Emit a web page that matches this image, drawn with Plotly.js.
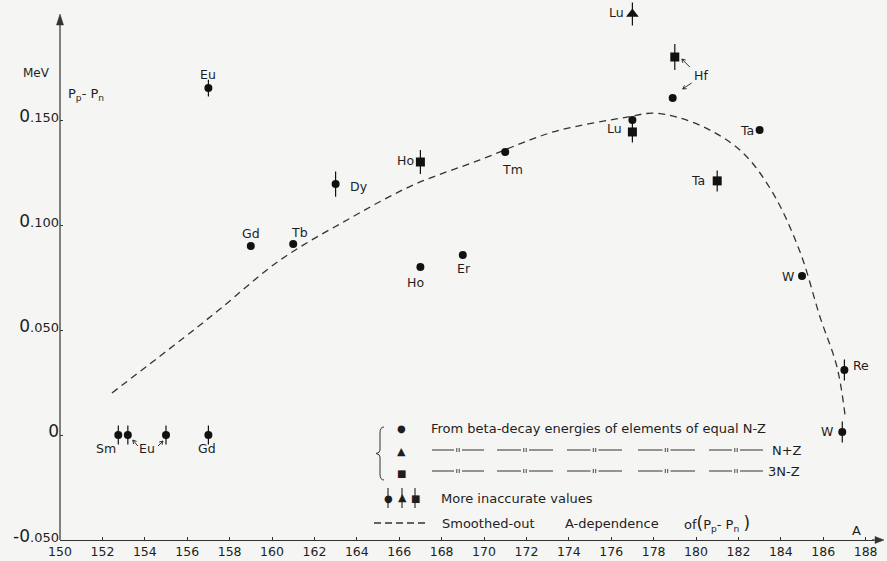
<!DOCTYPE html>
<html>
<head>
<meta charset="utf-8">
<script src="https://cdn.plot.ly/plotly-3.0.1.min.js"></script>
<style>html,body{margin:0;padding:0;background:#f5f5f4;}#chart{width:887px;height:561px;}</style>
</head>
<body>
<div id="chart"></div>
<script>
// ---------- data ----------
const circleA   = [152.75, 153.2, 155.0, 157.0, 157.0, 159.0, 161.0, 163.0, 167.0, 169.0, 171.0, 177.0, 178.9, 183.0, 185.0, 187.0, 186.9];
const circleVal = [0, 0, 0, 0, 0.1652, 0.090, 0.091, 0.1195, 0.080, 0.0857, 0.1348, 0.150, 0.1605, 0.1452, 0.0757, 0.031, 0.0014];
const circleErr = [0.0045, 0.0045, 0.0045, 0.0045, 0.004, 0, 0, 0.006, 0, 0, 0, 0, 0, 0, 0, 0.005, 0.005];
const circleName = ['Sm', '', 'Eu', 'Gd', 'Eu', 'Gd', 'Tb', 'Dy', 'Ho', 'Er', 'Tm', '', '', 'Ta', 'W', 'Re', 'W'];

const triA   = [177.0];
const triVal = [0.2005];
const triErr = [0.0055];
const triName = ['Lu'];

const sqA     = [167.0, 177.0, 179.0, 181.0];
const sqVal   = [0.130, 0.1443, 0.180, 0.121];
const sqErrUp = [0.0057, 0.007, 0.0062, 0.005];
const sqErrDn = [0.0057, 0.005, 0.0062, 0.005];
const sqName  = ['Ho', 'Lu', 'Hf', 'Ta'];

const curveA   = [152.45, 156.13, 157.55, 160.38, 163.54, 166.65, 169.81, 172.17, 173.58, 176.75, 177.97, 179.1, 180.66, 182.22, 183.63, 184.91, 185.85, 186.65, 187.03];
const curveVal = [0.020, 0.0486, 0.0600, 0.0833, 0.1024, 0.119, 0.131, 0.1405, 0.1452, 0.1514, 0.1533, 0.1514, 0.1452, 0.1343, 0.1152, 0.0871, 0.0562, 0.0324, 0.0095];

const xTickVals = [150,152,154,156,158,160,162,164,166,168,170,172,174,176,178,180,182,184,186,188];
const yTickVals = [-0.05, 0, 0.05, 0.10, 0.15];
const yTickText = ['-0<span style="font-size:13px">.050</span>', '0', '0<span style="font-size:13px">.050</span>', '0<span style="font-size:13px">.100</span>', '0<span style="font-size:13px">.150</span>'];

// ---------- layout helpers (placement in pixels) ----------
const W = 887, H = 561, M = {l: 60, r: 13, t: 2, b: 21};
const PX = x => (x - M.l) / (W - M.l - M.r);
const PY = y => (H - M.b - y) / (H - M.t - M.b);
const FONT = 'DejaVu Sans, Verdana, sans-serif';
const INK = '#1e1e1e';

const circleLabelShift = [[-12,13],null,[-19,13],[-1,13],[0,-14],[0,-13],[6,-11],[23,2],[-5,15],[1,13],[7,18],null,null,[-13,0],[-14,0],[17,-4],[-15,-1]];
const triLabelShift = [[-16,-1]];
const sqLabelShift = [[-15,-2],[-18,-3],[26,18],[-19,0]];

const annotations = [];
const shapes = [];
function addLabels(xs, ys, names, shifts) {
  names.forEach((n, i) => {
    if (!n || !shifts[i]) return;
    annotations.push({x: xs[i], y: ys[i], xref: 'x', yref: 'y', xanchor: 'center', yanchor: 'middle', text: n, showarrow: false,
      xshift: shifts[i][0], yshift: -shifts[i][1], font: {family: FONT, size: 12.5, color: INK}});
  });
}
addLabels(circleA, circleVal, circleName, circleLabelShift);
addLabels(triA, triVal, triName, triLabelShift);
addLabels(sqA, sqVal, sqName, sqLabelShift);

// small pointer arrows anchored at a data point (pixel offsets, +y = down)
function pointer(x, y, tail, head) {
  const tx = tail[0], ty = -tail[1], hx = head[0], hy = -head[1];
  const d = Math.hypot(hx - tx, hy - ty), ux = (hx - tx) / d, uy = (hy - ty) / d;
  const nx = -uy, ny = ux, L = 3.5, Wd = 2;
  const a1 = [hx - L * ux + Wd * nx, hy - L * uy + Wd * ny], a2 = [hx - L * ux - Wd * nx, hy - L * uy - Wd * ny];
  shapes.push({type: 'path', xref: 'x', yref: 'y', xsizemode: 'pixel', ysizemode: 'pixel', xanchor: x, yanchor: y,
    path: `M ${tx},${ty} L ${hx},${hy} M ${a1[0]},${a1[1]} L ${hx},${hy} L ${a2[0]},${a2[1]}`,
    line: {color: INK, width: 0.9}});
}
pointer(circleA[1], circleVal[1], [10, 11], [5, 5]);
pointer(circleA[2], circleVal[2], [-8, 11], [-3, 6]);
pointer(sqA[2], sqVal[2], [15, 10], [7, 2]);
pointer(circleA[12], circleVal[12], [19, -15], [10, -9]);

// axis arrows (paper coordinates)
const P = (x, y) => `${PX(x)},${PY(y)}`;
shapes.push({type: 'line', xref: 'paper', yref: 'paper', x0: PX(60), x1: PX(60), y0: PY(540), y1: PY(22), line: {color: '#333', width: 1.2}});
shapes.push({type: 'path', xref: 'paper', yref: 'paper', path: `M ${P(60,14)} L ${P(56.5,25)} L ${P(63.5,25)} Z`, fillcolor: '#333', line: {color: '#333', width: 0.5}});
shapes.push({type: 'line', xref: 'paper', yref: 'paper', x0: PX(872), x1: PX(878), y0: 0, y1: 0, line: {color: '#333', width: 1.2}});
shapes.push({type: 'path', xref: 'paper', yref: 'paper', path: `M ${P(884,540)} L ${P(875,536.5)} L ${P(875,543.5)} Z`, fillcolor: '#333', line: {color: '#333', width: 0.5}});

// free texts (paper coordinates, explicit anchors)
const note = (t, x, y, size, xa) => annotations.push({xref: 'paper', yref: 'paper', x: PX(x), y: PY(y), xanchor: xa || 'center', yanchor: 'middle',
  text: t, showarrow: false, font: {family: FONT, size: size, color: INK}});
note('MeV', 36, 73, 12);
note('P<sub>p</sub>- P<sub>n</sub>', 86, 95, 13);
note('A', 856, 530, 13);

// legend (drawn by hand, like the original)
note('●', 401, 429, 10);
note('▲', 401, 451, 11);
note('■', 401, 473, 10);
note('From beta-decay energies of elements of equal N-Z', 429, 429, 13, 'left');
const dittoGroups = [[432, 484], [497, 553], [567, 622], [638, 695], [709, 763]];
[450, 471].forEach(y => {
  dittoGroups.forEach(g => {
    const m = (g[0] + g[1]) / 2;
    shapes.push({type: 'line', xref: 'paper', yref: 'paper', x0: PX(g[0]), x1: PX(m - 4), y0: PY(y), y1: PY(y), line: {color: '#333', width: 1}});
    shapes.push({type: 'line', xref: 'paper', yref: 'paper', x0: PX(m + 4), x1: PX(g[1]), y0: PY(y), y1: PY(y), line: {color: '#333', width: 1}});
    [m - 1.2, m + 1.2].forEach(xx => shapes.push({type: 'line', xref: 'paper', yref: 'paper', x0: PX(xx), x1: PX(xx), y0: PY(y - 2), y1: PY(y + 2), line: {color: '#333', width: 0.9}}));
  });
});
note('N+Z', 770, 450, 13, 'left');
note('3N-Z', 766, 471, 13, 'left');
note('●', 388, 498, 10);
note('▲', 402, 497, 11);
note('■', 415, 498, 10);
note('More inaccurate values', 439, 498, 13, 'left');
note('Smoothed-out', 440, 523, 13, 'left');
note('A-dependence', 563, 523, 13, 'left');
note('of<span style="font-size:17px">(</span>P<sub>p</sub>- P<sub>n</sub> <span style="font-size:17px">)</span>', 682, 523, 13, 'left');

const brace = [[384,427],[380,427],[380,433],[380,450],[380,453],[376,453.5],[380,454],[380,457],[380,474],[380,480],[384,480]];
const bp = brace.map(p => [PX(p[0]), PY(p[1])]);
shapes.push({type: 'path', xref: 'paper', yref: 'paper',
  path: `M ${bp[0][0]},${bp[0][1]} Q ${bp[1][0]},${bp[1][1]} ${bp[2][0]},${bp[2][1]} L ${bp[3][0]},${bp[3][1]} Q ${bp[4][0]},${bp[4][1]} ${bp[5][0]},${bp[5][1]} Q ${bp[6][0]},${bp[6][1]} ${bp[7][0]},${bp[7][1]} L ${bp[8][0]},${bp[8][1]} Q ${bp[9][0]},${bp[9][1]} ${bp[10][0]},${bp[10][1]}`,
  line: {color: '#333', width: 1}});
[388, 402, 415].forEach(x => shapes.push({type: 'line', xref: 'paper', yref: 'paper', x0: PX(x), x1: PX(x), y0: PY(488), y1: PY(508), line: {color: '#222', width: 1.1}}));
shapes.push({type: 'line', xref: 'paper', yref: 'paper', x0: PX(374), x1: PX(426), y0: PY(523), y1: PY(523), line: {color: '#333', width: 1.3, dash: '7px,4px'}});

// ---------- traces ----------
const errStyle = {type: 'data', visible: true, thickness: 1.2, width: 0, color: '#111'};
const traces = [
  {x: curveA, y: curveVal, type: 'scatter', mode: 'lines', line: {color: '#333', width: 1.3, dash: '7px,5px', shape: 'spline', smoothing: 1}, cliponaxis: false},
  {x: circleA, y: circleVal, type: 'scatter', mode: 'markers', marker: {symbol: 'circle', size: 8, color: '#111'}, error_y: Object.assign({array: circleErr}, errStyle), cliponaxis: false},
  {x: triA, y: triVal, type: 'scatter', mode: 'markers', marker: {symbol: 'triangle-up', size: 11, color: '#111'}, error_y: Object.assign({array: triErr}, errStyle), cliponaxis: false},
  {x: sqA, y: sqVal, type: 'scatter', mode: 'markers', marker: {symbol: 'square', size: 9, color: '#111'}, error_y: Object.assign({array: sqErrUp, arrayminus: sqErrDn, symmetric: false}, errStyle), cliponaxis: false}
];

const layout = {
  width: W, height: H,
  margin: M,
  paper_bgcolor: '#f5f5f4', plot_bgcolor: 'rgba(0,0,0,0)',
  showlegend: false,
  font: {family: FONT, color: INK},
  xaxis: {range: [150, 150 + (W - M.l - M.r) / 21.2], tickvals: xTickVals, ticktext: xTickVals.map(String),
    ticks: 'inside', ticklen: 3, tickcolor: '#333', showline: true, linecolor: '#333', linewidth: 1.2,
    showgrid: false, zeroline: false, tickfont: {family: FONT, size: 12.5, color: INK}},
  yaxis: {range: [-0.05, -0.05 + (H - M.t - M.b) / 2100], tickvals: yTickVals, ticktext: yTickText,
    ticks: 'inside', ticklen: 3, tickcolor: '#333', showline: false, showgrid: false, zeroline: false,
    ticklabelshift: -4, tickfont: {family: FONT, size: 17, color: INK}},
  annotations: annotations,
  shapes: shapes
};

Plotly.newPlot('chart', traces, layout, {staticPlot: true, displayModeBar: false});
</script>
</body>
</html>
